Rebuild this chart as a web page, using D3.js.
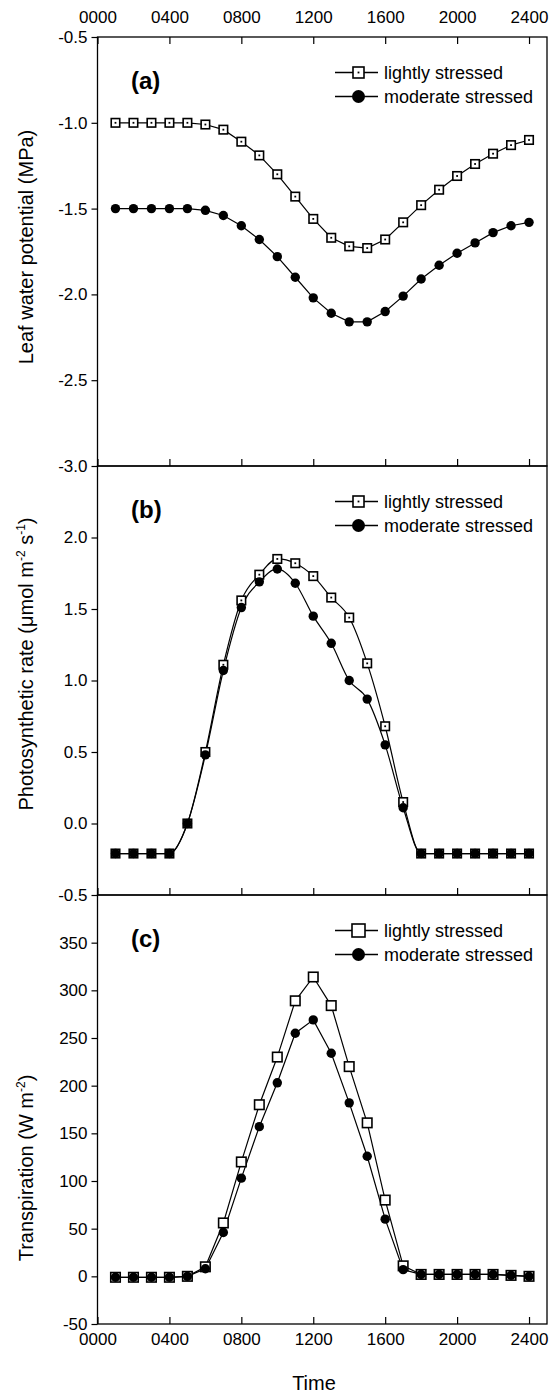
<!DOCTYPE html>
<html>
<head>
<meta charset="utf-8">
<script src="https://cdn.jsdelivr.net/npm/d3@7"></script>
<style>
  body { margin: 0; background: #fff; }
  svg { display: block; }
  text { font-family: "Liberation Sans", Arial, Helvetica, sans-serif; fill: #000; }
</style>
</head>
<body>
<svg id="chart" width="556" height="1394"></svg>
<script>
// Hourly sampling times (hhmm)
const hours = [100, 200, 300, 400, 500, 600, 700, 800, 900, 1000, 1100, 1200,
               1300, 1400, 1500, 1600, 1700, 1800, 1900, 2000, 2100, 2200, 2300, 2400];
const timeTicks = [0, 400, 800, 1200, 1600, 2000, 2400];
const timeTickLabels = ["0000", "0400", "0800", "1200", "1600", "2000", "2400"];
const seriesNames = ["lightly stressed", "moderate stressed"];

// (a) leaf water potential, MPa
const lwpLight = [-1.00, -1.00, -1.00, -1.00, -1.00, -1.01, -1.04, -1.11, -1.19, -1.30, -1.43, -1.56,
                  -1.67, -1.72, -1.73, -1.68, -1.58, -1.48, -1.39, -1.31, -1.24, -1.18, -1.13, -1.10];
const lwpModerate = [-1.50, -1.50, -1.50, -1.50, -1.50, -1.51, -1.54, -1.60, -1.68, -1.78, -1.90, -2.02,
                     -2.11, -2.16, -2.16, -2.10, -2.01, -1.91, -1.83, -1.76, -1.70, -1.64, -1.60, -1.58];
const lwpTicks = [-3.0, -2.5, -2.0, -1.5, -1.0, -0.5];

// (b) photosynthetic rate, umol m-2 s-1
const photoLight = [-0.21, -0.21, -0.21, -0.21, 0.00, 0.50, 1.11, 1.56, 1.74, 1.85, 1.82, 1.73,
                    1.58, 1.44, 1.12, 0.68, 0.15, -0.21, -0.21, -0.21, -0.21, -0.21, -0.21, -0.21];
const photoModerate = [-0.21, -0.21, -0.21, -0.21, 0.00, 0.48, 1.07, 1.51, 1.69, 1.78, 1.68, 1.45,
                       1.26, 1.00, 0.87, 0.55, 0.11, -0.21, -0.21, -0.21, -0.21, -0.21, -0.21, -0.21];
const photoTicks = [-0.5, 0.0, 0.5, 1.0, 1.5, 2.0];

// (c) transpiration, W m-2
const transLight = [-1, -1, -1, -1, 0, 10, 56, 120, 180, 230, 289, 314,
                    284, 220, 161, 80, 11, 2, 2, 2, 2, 2, 1, 0];
const transModerate = [-1, -1, -1, -1, 0, 8, 46, 103, 157, 203, 255, 269,
                       234, 182, 126, 60, 7, 2, 2, 2, 2, 2, 1, 0];
const transTicks = [-50, 0, 50, 100, 150, 200, 250, 300, 350];

const svg = d3.select("#chart");
const plotLeft = 97.5, plotRight = 547, plotTop = 37, plotBottom = 1324;
const panelH = (plotBottom - plotTop) / 3;

const x = d3.scaleLinear().domain([0, 2500]).range([plotLeft, plotRight]);

const panels = [
  { tag: "(a)", light: lwpLight, moderate: lwpModerate, domain: [-3.0, -0.5], ticks: lwpTicks,
    fmt: d => d.toFixed(1), curve: d3.curveLinear, dotted: true, titleY: 247,
    title: [["Leaf water potential (MPa)", false]] },
  { tag: "(b)", light: photoLight, moderate: photoModerate, domain: [-0.5, 2.5], ticks: photoTicks,
    fmt: d => d.toFixed(1), curve: d3.curveMonotoneX, dotted: true, titleY: 664,
    title: [["Photosynthetic rate (\u03bcmol m", false], ["-2", true], [" s", false], ["-1", true], [")", false]] },
  { tag: "(c)", light: transLight, moderate: transModerate, domain: [-50, 400], ticks: transTicks,
    fmt: d => String(d), curve: d3.curveLinear, dotted: false, titleY: 1168,
    title: [["Transpiration (W m", false], ["-2", true], [")", false]] }
];

panels.forEach((p, i) => {
  const top = plotTop + i * panelH;
  const bottom = top + panelH;
  const y = d3.scaleLinear().domain(p.domain).range([bottom, top]);
  const g = svg.append("g");

  // frame
  g.append("rect")
    .attr("x", plotLeft).attr("y", top)
    .attr("width", plotRight - plotLeft).attr("height", panelH)
    .attr("fill", "none").attr("stroke", "#000").attr("stroke-width", 1.3);

  // left axis, ticks outside
  const yAxis = g.append("g").attr("transform", `translate(${plotLeft},0)`)
    .call(d3.axisLeft(y).tickValues(p.ticks).tickFormat(p.fmt).tickSize(6).tickPadding(4));
  yAxis.select(".domain").remove();
  yAxis.selectAll("line").attr("stroke-width", 1.2);
  yAxis.selectAll("text").attr("font-size", 17).attr("font-family", null);

  // bottom ticks pointing inward
  const xb = g.append("g").attr("transform", `translate(0,${bottom})`)
    .call(d3.axisBottom(x).tickValues(timeTicks).tickSizeInner(-7).tickSizeOuter(0).tickPadding(9)
      .tickFormat((d, k) => i === 2 ? timeTickLabels[k] : ""));
  xb.select(".domain").remove();
  xb.selectAll("line").attr("stroke-width", 1.2);
  xb.selectAll("text").attr("font-size", 17).attr("font-family", null);

  if (i === 0) {
    const xt = g.append("g").attr("transform", `translate(0,${top})`)
      .call(d3.axisTop(x).tickValues(timeTicks).tickSizeInner(-7).tickSizeOuter(0).tickPadding(14.5)
        .tickFormat((d, k) => timeTickLabels[k]));
    xt.select(".domain").remove();
    xt.selectAll("line").attr("stroke-width", 1.2);
    xt.selectAll("text").attr("font-size", 17).attr("font-family", null);
  }

  // y-axis title
  const t = g.append("text")
    .attr("transform", `translate(33,${p.titleY}) rotate(-90)`)
    .attr("text-anchor", "middle").attr("font-size", 20);
  p.title.forEach(([s, sup]) => {
    if (sup) {
      t.append("tspan").attr("font-size", 12).attr("dy", -8).text(s);
    } else {
      const ts = t.append("tspan").text(s);
      if (t.selectAll("tspan").size() > 1) ts.attr("dy", 8);
    }
  });

  // panel tag
  g.append("text").attr("x", 131).attr("y", top + 52)
    .attr("font-size", 24).attr("font-weight", "bold").text(p.tag);

  // lines
  const line = d3.line().x((d, k) => x(hours[k])).y(d => y(d)).curve(p.curve);
  [p.light, p.moderate].forEach(vals => {
    g.append("path").datum(vals).attr("d", line)
      .attr("fill", "none").attr("stroke", "#000").attr("stroke-width", 1.2);
  });

  const sq = p.dotted ? 8.5 : 9.5;
  const drawSquare = (sel, cx, cy, s) => {
    sel.append("rect").attr("x", cx - s / 2).attr("y", cy - s / 2)
      .attr("width", s).attr("height", s)
      .attr("fill", "#fff").attr("stroke", "#000").attr("stroke-width", 1.6);
    if (p.dotted) {
      sel.append("rect").attr("x", cx - 0.9).attr("y", cy - 0.9)
        .attr("width", 1.8).attr("height", 1.8).attr("fill", "#000");
    }
  };

  // lightly stressed: open squares
  const ml = g.append("g");
  p.light.forEach((v, k) => drawSquare(ml, x(hours[k]), y(v), sq));
  // moderate stressed: filled circles drawn on top
  g.append("g").selectAll("circle").data(p.moderate).join("circle")
    .attr("cx", (d, k) => x(hours[k])).attr("cy", d => y(d)).attr("r", 4.7)
    .attr("fill", "#000");

  // legend
  const rows = [top + 35.5, top + 59.5];
  rows.forEach((ry, k) => {
    g.append("line").attr("x1", 335).attr("x2", 378).attr("y1", ry).attr("y2", ry)
      .attr("stroke", "#000").attr("stroke-width", 1.3);
    if (k === 0) {
      drawSquare(g.append("g"), 358.5, ry, p.dotted ? 11 : 13);
    } else {
      g.append("circle").attr("cx", 358.5).attr("cy", ry).attr("r", 6.5).attr("fill", "#000");
    }
    g.append("text").attr("x", 384).attr("y", ry).attr("dy", "0.35em")
      .attr("font-size", 18).text(seriesNames[k]);
  });
});

// x-axis title
svg.append("text").attr("x", 314).attr("y", 1390)
  .attr("text-anchor", "middle").attr("font-size", 20).text("Time");
</script>
</body>
</html>
